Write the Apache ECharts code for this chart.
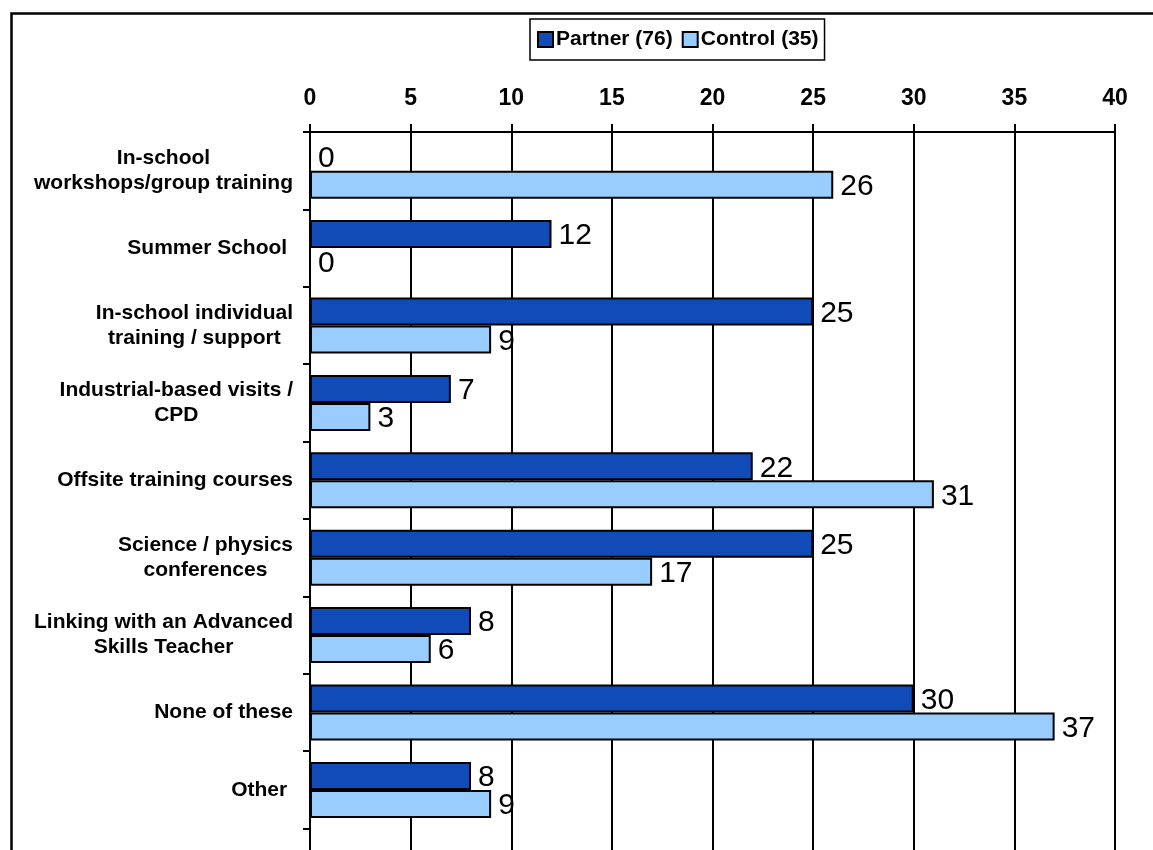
<!DOCTYPE html>
<html>
<head>
<meta charset="utf-8">
<title>Partner vs Control</title>
<script src="https://cdn.jsdelivr.net/npm/echarts@6/dist/echarts.min.js"></script>
<style>
  html, body { margin: 0; padding: 0; background: #fff; width: 1153px; height: 850px; overflow: hidden; }
  /* the plot runs past the bottom edge of the page, so its last band is cut off */
  #chart { width: 1153px; height: 906px; }
</style>
</head>
<body>
<div id="chart"></div>
<script>
// Activity categories (top to bottom)
const categories = [
  'In-school\nworkshops/group training',
  'Summer School ',
  'In-school individual\ntraining / support',
  'Industrial-based visits /\nCPD',
  'Offsite training courses',
  'Science / physics\nconferences',
  'Linking with an Advanced\nSkills Teacher',
  'None of these',
  'Other '
];

const seriesNames = ['Partner (76)', 'Control (35)'];
const partnerValues = [0, 12, 25, 7, 22, 25, 8, 30, 8];
const controlValues = [26, 0, 9, 3, 31, 17, 6, 37, 9];

// Value axis ticks
const valueTicks = [0, 5, 10, 15, 20, 25, 30, 35, 40];

const FONT = '"Liberation Sans", Arial, Helvetica, sans-serif';
const LINE = { color: '#000', width: 2 };

const chart = echarts.init(document.getElementById('chart'), null, { renderer: 'canvas' });

const barLabel = {
  show: true,
  position: 'right',
  distance: 7,
  offset: [0, 2],
  color: '#000',
  fontSize: 30,
  fontFamily: FONT
};

chart.setOption({
  backgroundColor: '#fff',
  animation: false,
  graphic: [{
    type: 'rect',
    silent: true,
    z: -1,
    shape: { x: 11.5, y: 13.5, width: 1300, height: 1000 },
    style: { fill: 'none', stroke: '#000', lineWidth: 2.5 }
  }],
  legend: {
    data: seriesNames,
    left: 530,
    top: 19,
    padding: [10, 6, 10, 7],
    itemGap: 9,
    itemWidth: 15,
    itemHeight: 15,
    icon: 'rect',
    borderColor: '#000',
    borderWidth: 1.5,
    backgroundColor: '#fff',
    textStyle: { color: '#000', fontSize: 21, fontWeight: 'bold', fontFamily: FONT, padding: [0, 0, 0, -2] }
  },
  grid: {
    left: 310,
    right: 38,
    top: 132,
    bottom: 0,
    containLabel: false
  },
  xAxis: {
    type: 'value',
    position: 'top',
    min: valueTicks[0],
    max: valueTicks[valueTicks.length - 1],
    interval: valueTicks[1] - valueTicks[0],
    axisLine: { show: true, lineStyle: LINE },
    axisTick: { show: true, length: 8, lineStyle: LINE },
    axisLabel: {
      color: '#000',
      fontSize: 23,
      fontWeight: 'bold',
      fontFamily: FONT,
      margin: 22
    },
    splitLine: { show: true, lineStyle: LINE }
  },
  yAxis: {
    type: 'category',
    data: categories,
    inverse: true,
    min: 0,
    max: categories.length,
    axisLine: { show: true, onZero: false, lineStyle: LINE },
    axisTick: { show: true, length: 7, lineStyle: LINE },
    axisLabel: {
      margin: 17,
      interval: 0,
      align: 'right',
      formatter: function (value, index) {
        return index < categories.length ? '{c|' + categories[index] + '}' : '';
      },
      rich: {
        c: {
          align: 'center',
          color: '#000',
          fontSize: 21,
          fontWeight: 'bold',
          lineHeight: 25,
          fontFamily: FONT
        }
      }
    },
    splitLine: { show: false }
  },
  series: [
    {
      name: seriesNames[0],
      type: 'bar',
      data: partnerValues,
      barWidth: 28,
      barGap: '0%',
      itemStyle: { color: '#104BB8', borderColor: '#000', borderWidth: 2 },
      label: barLabel
    },
    {
      name: seriesNames[1],
      type: 'bar',
      data: controlValues,
      barWidth: 28,
      barGap: '0%',
      itemStyle: { color: '#99CCFF', borderColor: '#000', borderWidth: 2 },
      label: barLabel
    }
  ]
});
</script>
</body>
</html>
